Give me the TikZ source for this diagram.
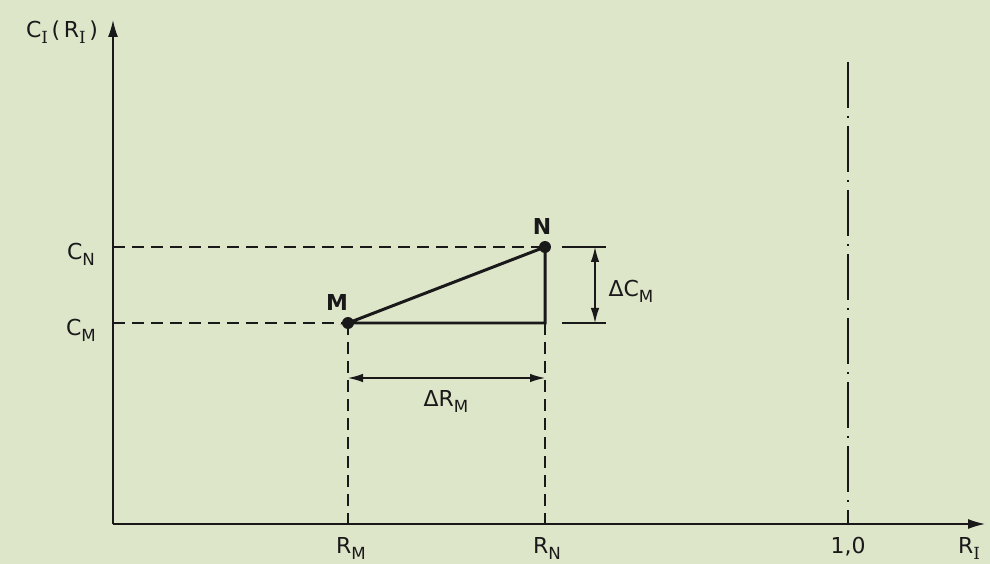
\documentclass[tikz,border=0pt]{standalone}
\usepackage{fontspec}
\setmainfont{DejaVu Sans}
\newfontfamily\serifface{DejaVu Serif}
\usetikzlibrary{arrows.meta}

\definecolor{paper}{RGB}{222,230,202}
\definecolor{ink}{RGB}{25,25,25}

\newcommand{\sbs}[1]{\raisebox{-0.5ex}{\fontsize{9.5}{10}\selectfont #1}}
\newcommand{\sbI}{\raisebox{-0.5ex}{\fontsize{9.5}{10}\selectfont\serifface I}}

\tikzset{
  axis/.style={ink, line width=0.8pt, -{Latex[length=3.4mm,width=2mm]}},
  guide/.style={ink, line width=0.7pt, dash pattern=on 2.4mm off 1.4mm},
  limit/.style={ink, line width=0.7pt, dash pattern=on 9.2mm off 1.6mm on 0.4mm off 1.6mm},
  edge/.style={ink, line width=1.7pt},
  dim/.style={ink, line width=0.7pt, {Latex[length=3mm,width=1.7mm]}-{Latex[length=3mm,width=1.7mm]}},
  lbl/.style={text=ink, font=\fontsize{12.5}{14}\selectfont, inner sep=1pt},
  pt/.style={text=ink, font=\fontsize{12.5}{14}\selectfont\bfseries, inner sep=1pt}
}

\begin{document}
\begin{tikzpicture}[x=0.2mm, y=-0.2mm]
    \fill[paper] (0,0) rectangle (990,564);
    \useasboundingbox (0,0) rectangle (990,564);
    % axes
    \coordinate (O) at (113,524);
    \coordinate (ytop) at (113,20);
    \coordinate (xend) at (985,524);
    \draw[axis] (O) -- (ytop);
    \draw[axis] (O) -- (xend);
    % points of the triangle
    \coordinate (M) at (348,323);
    \coordinate (N) at (545,247);
    \coordinate (K) at (545,323);
    \coordinate (CN) at (113,247);
    \coordinate (CM) at (113,323);
    \coordinate (RM) at (348,524);
    \coordinate (RN) at (545,524);
    \coordinate (one) at (848,524);
    \coordinate (onetop) at (848,62);
    % guide lines
    \draw[guide] (CN) -- (N);
    \draw[guide] (CM) -- (M);
    \draw[guide] (M) -- (RM);
    \draw[guide] (K) -- (RN);
    \draw[limit] (onetop) -- (one);
    \draw[ink, line width=0.7pt] (RM) -- ++(0,-9) (RN) -- ++(0,-9) (one) -- ++(0,-9);
    \draw[ink, line width=0.7pt] (CN) -- ++(7,0) (CM) -- ++(7,0);
    \draw[edge] (M) -- (N) -- (K) -- cycle;
    \fill[ink] (M) circle (3.4pt);
    \fill[ink] (N) circle (3.4pt);
    % dimensions
    \coordinate (dcA) at (595,247);
    \coordinate (dcB) at (595,323);
    \draw[ink, line width=0.7pt] (562,247) -- (606,247) (562,323) -- (606,323);
    \draw[dim] (dcA) -- (dcB);
    \coordinate (drA) at (348,378);
    \coordinate (drB) at (545,378);
    \draw[dim] (drA) -- (drB);
    % labels
    \node[lbl] (ylab) at (62,32) {C\sbI\,(\,R\sbI\,)};
    \node[lbl] (xlab) at (969,548) {R\sbI};
    \node[lbl] (cnlab) at (81,254) {C\sbs{N}};
    \node[lbl] (cmlab) at (81,330) {C\sbs{M}};
    \node[pt] (mlab) at (337,302) {M};
    \node[pt] (nlab) at (542,226) {N};
    \node[lbl] (dclab) at (631,291) {ΔC\sbs{M}};
    \node[lbl] (drlab) at (446,401) {ΔR\sbs{M}};
    \node[lbl] (rmlab) at (351,548) {R\sbs{M}};
    \node[lbl] (rnlab) at (547,548) {R\sbs{N}};
    \node[lbl] (onelab) at (848,547) {1,0};
\end{tikzpicture}
\end{document}
